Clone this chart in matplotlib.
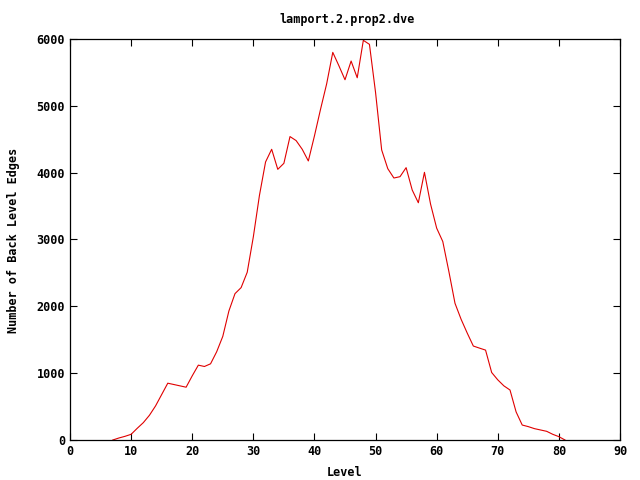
import matplotlib
matplotlib.use("Agg")
import matplotlib.pyplot as plt

# level -> number of back level edges
levels = list(range(7, 82))
edges = [
    0, 30, 55, 85, 175, 260, 370, 510, 680, 850,          # 7-16
    830, 810, 790, 960, 1120, 1100, 1140, 1320, 1550, 1930,  # 17-26
    2190, 2280, 2510, 3040, 3660, 4160, 4350, 4050, 4140, 4540,  # 27-36
    4480, 4350, 4175, 4550, 4950, 5330, 5800, 5600, 5390, 5670,  # 37-46
    5420, 5980, 5920, 5200, 4340, 4060, 3920, 3940, 4075, 3740,  # 47-56
    3550, 4005, 3530, 3170, 2970, 2520, 2045, 1806, 1600, 1406,  # 57-66
    1375, 1345, 1010, 900, 810, 748, 420, 224, 200, 170,         # 67-76
    150, 130, 85, 50, 0,                                         # 77-81
]

x_ticks = list(range(0, 91, 10))
y_ticks = list(range(0, 6001, 1000))

title = "lamport.2.prop2.dve"
x_label = "Level"
y_label = "Number of Back Level Edges"

plt.rcParams['font.family'] = ['DejaVu Sans Mono']
plt.rcParams['font.weight'] = 'bold'
plt.rcParams['font.size'] = 8.5

fig = plt.figure(figsize=(6.4, 4.8), dpi=100)
ax = fig.add_axes([70 / 640, 40 / 480, 550 / 640, 401 / 480])

ax.plot(levels, edges, color='#e00000', linewidth=0.8)

ax.set_xlim(0, 90)
ax.set_ylim(0, 6000)
ax.set_xticks(x_ticks)
ax.set_yticks(y_ticks)
ax.tick_params(direction='in', length=5, width=0.8, top=True, right=True,
               labelsize=8.5)
for lbl in ax.get_xticklabels() + ax.get_yticklabels():
    lbl.set_fontweight('bold')
for sp in ax.spines.values():
    sp.set_linewidth(0.9)

fig.text(347 / 640, 1 - 20 / 480, title, ha='center', va='center',
         fontweight='bold', fontsize=8.5)
fig.text(345 / 640, 1 - 473 / 480, x_label, ha='center', va='center',
         fontweight='bold', fontsize=8.5)
fig.text(14 / 640, 1 - 240 / 480, y_label, ha='center', va='center',
         rotation=90, fontweight='bold', fontsize=8.5)

fig.savefig("out.png", dpi=100)
